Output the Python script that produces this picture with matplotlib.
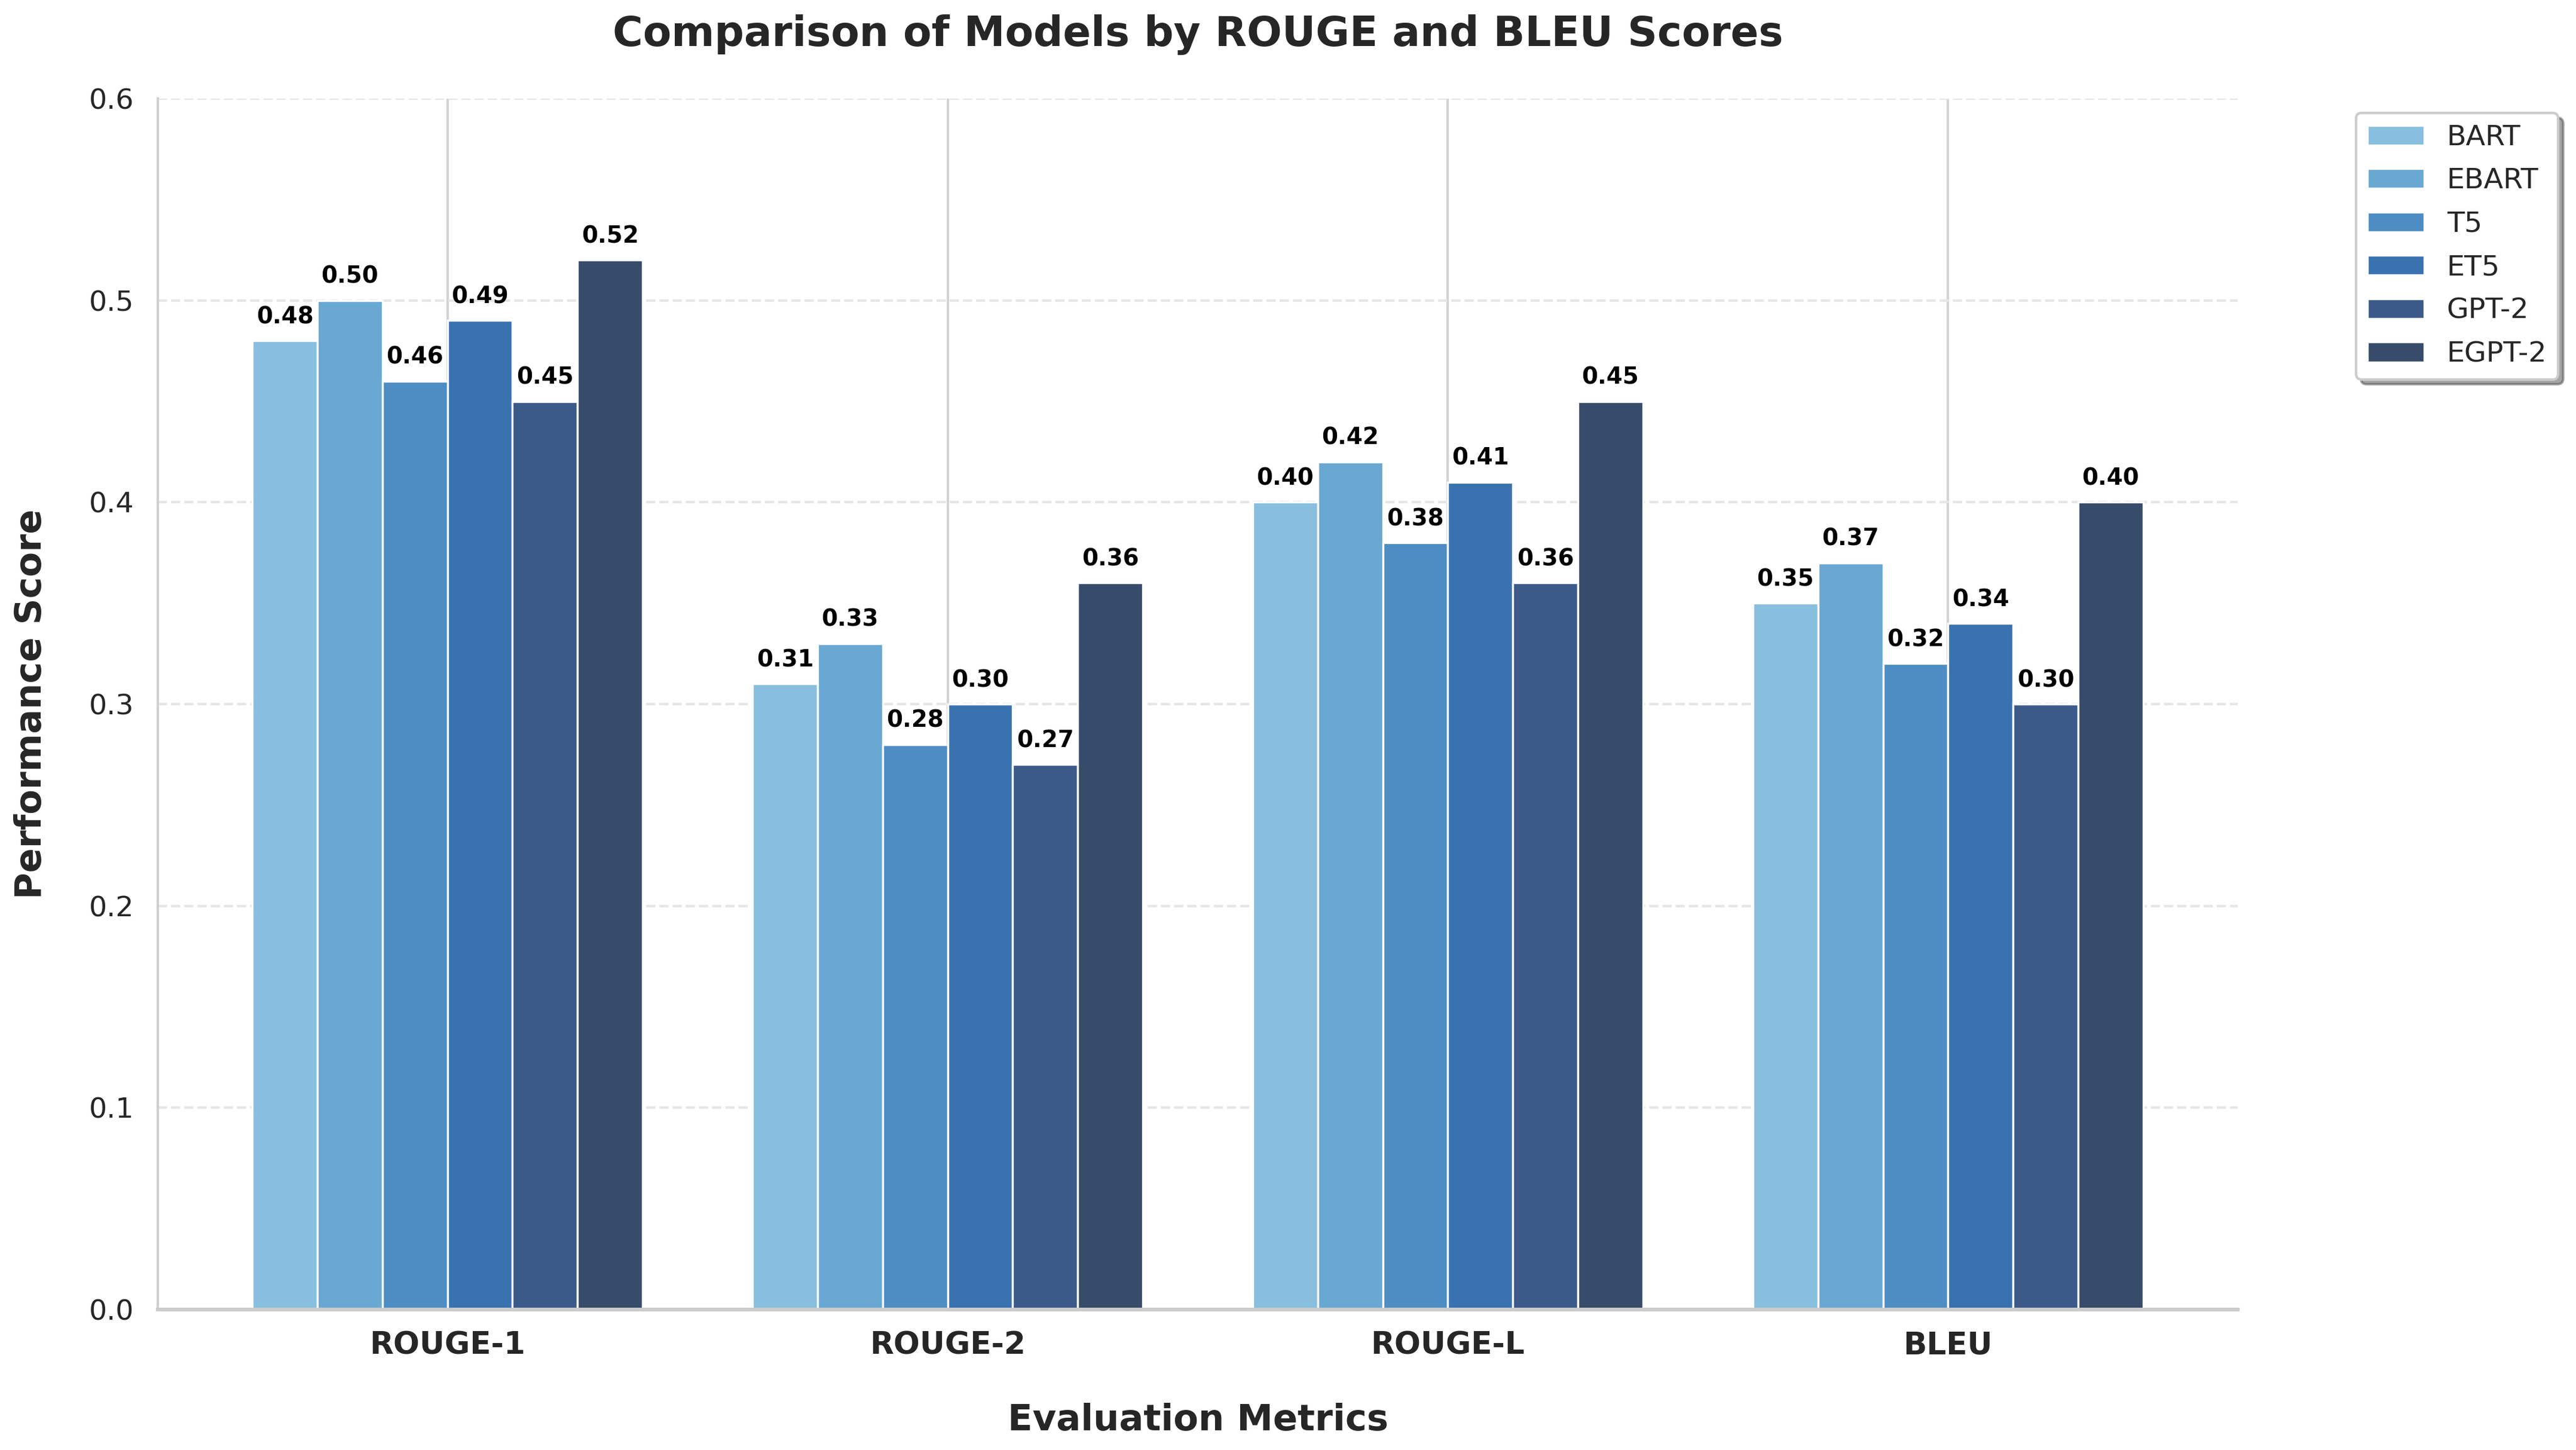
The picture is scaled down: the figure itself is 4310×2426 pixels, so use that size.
import matplotlib
matplotlib.use("Agg")
import matplotlib.pyplot as plt
import numpy as np

metrics = ["ROUGE-1", "ROUGE-2", "ROUGE-L", "BLEU"]
models = ["BART", "EBART", "T5", "ET5", "GPT-2", "EGPT-2"]
bart = [0.48, 0.31, 0.40, 0.35]
ebart = [0.50, 0.33, 0.42, 0.37]
t5 = [0.46, 0.28, 0.38, 0.32]
et5 = [0.49, 0.30, 0.41, 0.34]
gpt2 = [0.45, 0.27, 0.36, 0.30]
egpt2 = [0.52, 0.36, 0.45, 0.40]
series = [bart, ebart, t5, et5, gpt2, egpt2]
colors = ["#88bede", "#69a8d3", "#4e8dc3", "#3a72b0", "#3b5a89", "#374b6b"]

plt.rcParams["font.family"] = ["DejaVu Sans"]
fig = plt.figure(figsize=(4310 / 300, 2426 / 300), dpi=300)
ax = fig.add_axes([264 / 4310, 1 - 2191 / 2426, (3744 - 264) / 4310, (2191 - 165) / 2426])

x = np.arange(len(metrics))
width = 0.13
for i, (name, vals, c) in enumerate(zip(models, series, colors)):
    pos = x + (i - 2.5) * width
    bars = ax.bar(pos, vals, width, label=name, color=c, edgecolor="white", linewidth=0.8, zorder=2)
    for b, v in zip(bars, vals):
        ax.annotate(f"{v:.2f}", (b.get_x() + b.get_width() / 2, v), xytext=(0, 5),
                    textcoords="offset points", ha="center", va="bottom",
                    fontsize=9.3, fontweight="bold", color="black", zorder=3)

ax.set_ylim(0, 0.6)
ax.set_yticks(np.arange(0, 0.61, 0.1))
ax.set_yticklabels([f"{t:.1f}" for t in np.arange(0, 0.61, 0.1)])
ax.set_xticks(x)
ax.set_xticklabels(metrics, fontsize=12.4, fontweight="bold", color="#262626")
ax.tick_params(axis="y", labelsize=11.4, labelcolor="#262626", length=0, pad=9.6)
ax.tick_params(axis="x", length=0, pad=8.5)

ax.set_axisbelow(True)
ax.yaxis.grid(True, linestyle="--", color="#e6e6e6", linewidth=1.0)
ax.xaxis.grid(True, linestyle="-", color="#d3d3d3", linewidth=1.0)

for s in ["top", "right"]:
    ax.spines[s].set_visible(False)
ax.spines["left"].set_color("#d0d0d0")
ax.spines["left"].set_linewidth(1.0)
ax.spines["bottom"].set_color("#cccccc")
ax.spines["bottom"].set_linewidth(1.5)

ax.set_title("Comparison of Models by ROUGE and BLEU Scores", fontsize=16.6, fontweight="bold",
             color="#262626", pad=21)
ax.set_xlabel("Evaluation Metrics", fontsize=14.6, fontweight="bold", color="#262626", labelpad=17)
ax.set_ylabel("Performance Score", fontsize=14.6, fontweight="bold", color="#262626", labelpad=16)

leg = ax.legend(loc="upper left", bbox_to_anchor=(1.05, 1), fontsize=11.4, frameon=True,
                shadow=True, fancybox=True, edgecolor="#cccccc", facecolor="white",
                labelspacing=0.58)
for t in leg.get_texts():
    t.set_color("#262626")

fig.savefig("out.png", dpi=300)
